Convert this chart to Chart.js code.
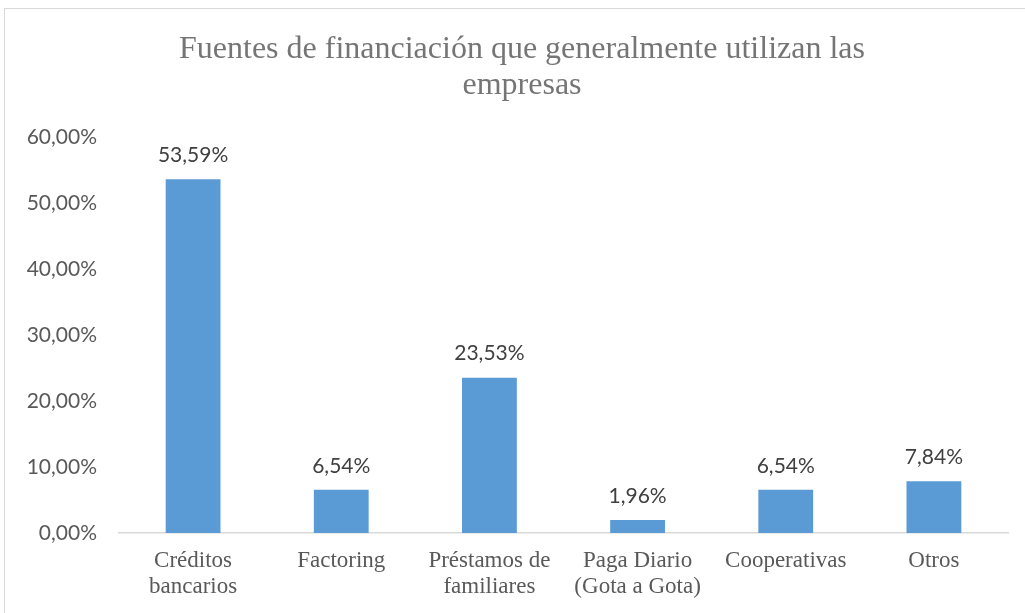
<!DOCTYPE html>
<html>
<head>
<meta charset="utf-8">
<script src="https://cdn.jsdelivr.net/npm/chart.js@4"></script>
<style>
  body { margin: 0; background: #fff; }
  #frame { position: absolute; left: 4px; top: 8px; width: 1040px; height: 640px; border: 1px solid #d9d9d9; }
  #wrap { position: absolute; left: 0; top: 0; width: 1025px; height: 613px; }
</style>
</head>
<body>
<div id="frame"></div>
<div id="wrap"><canvas id="bars" width="1025" height="613"></canvas></div>
<script>
const titleLines = ["Fuentes de financiación que generalmente utilizan las", "empresas"];
const categories = [
  ["Créditos", "bancarios"],
  "Factoring",
  ["Préstamos de", "familiares"],
  ["Paga Diario", "(Gota a Gota)"],
  "Cooperativas",
  "Otros"
];
const shares = [0.5359, 0.0654, 0.2353, 0.0196, 0.0654, 0.0784];
const yTicks = [0, 0.1, 0.2, 0.3, 0.4, 0.5, 0.6];

function pct(v) {
  return (v * 100).toFixed(2).replace(".", ",") + "%";
}

// labels above each bar, placed from the bar elements
const barLabels = {
  id: "barLabels",
  afterDatasetsDraw(chart) {
    const ctx = chart.ctx;
    const meta = chart.getDatasetMeta(0);
    ctx.save();
    ctx.font = "21px Lato";
    ctx.fillStyle = "#404040";
    ctx.textAlign = "center";
    ctx.textBaseline = "middle";
    meta.data.forEach((bar, i) => {
      ctx.fillText(pct(shares[i]), bar.x, bar.y - 24);
    });
    ctx.restore();
  }
};

// title sits a little right of the canvas centre, like the original frame
const titleText = {
  id: "titleText",
  afterDraw(chart) {
    const ctx = chart.ctx;
    ctx.save();
    ctx.font = "32px 'Liberation Serif'";
    ctx.fillStyle = "#757575";
    ctx.textAlign = "center";
    ctx.textBaseline = "alphabetic";
    titleLines.forEach((line, i) => {
      ctx.fillText(line, 522, 58 + i * 36);
    });
    ctx.restore();
  }
};

new Chart(document.querySelector("#bars"), {
  type: "bar",
  data: {
    labels: categories,
    datasets: [
      {
        data: shares,
        backgroundColor: "#5B9BD5",
        categoryPercentage: 0.74,
        barPercentage: 0.5
      }
    ]
  },
  options: {
    responsive: false,
    animation: false,
    layout: { padding: { left: 0, right: 17, top: 137, bottom: 0 } },
    plugins: {
      legend: { display: false },
      tooltip: { enabled: false },
      title: { display: false }
    },
    scales: {
      x: {
        grid: { display: false, drawTicks: false },
        border: { color: "#d9d9d9", width: 1.5 },
        ticks: {
          color: "#595959",
          font: { family: "Liberation Serif", size: 23, lineHeight: 1.17 },
          padding: 14,
          maxRotation: 0,
          autoSkip: false
        },
        afterFit: (s) => { s.height = 80; }
      },
      y: {
        min: 0,
        max: 0.6,
        grid: { display: false, drawTicks: false },
        border: { display: false },
        afterBuildTicks: (s) => { s.ticks = yTicks.map((v) => ({ value: v })); },
        ticks: {
          color: "#595959",
          font: { family: "Lato", size: 21 },
          padding: 22,
          callback: (v) => pct(v)
        },
        afterFit: (s) => { s.width = 119; }
      }
    }
  },
  plugins: [barLabels, titleText]
});
</script>
</body>
</html>
